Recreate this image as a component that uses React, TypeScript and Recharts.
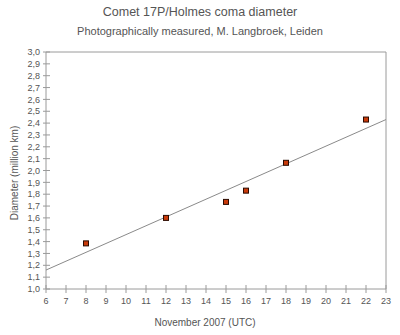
import { ComposedChart, Scatter, XAxis, YAxis, ReferenceLine } from 'recharts';

// November 2007 day, coma diameter (million km)
const days = [8, 12, 15, 16, 18, 22];
const diameters = [1.385, 1.6, 1.735, 1.83, 2.065, 2.43];

// linear fit drawn across the whole axis
const trendDays = [6, 23];
const trendValues = [1.16, 2.43];

const xTicks = [6, 7, 8, 9, 10, 11, 12, 13, 14, 15, 16, 17, 18, 19, 20, 21, 22, 23];
const yTicks = [
  1.0, 1.1, 1.2, 1.3, 1.4, 1.5, 1.6, 1.7, 1.8, 1.9, 2.0,
  2.1, 2.2, 2.3, 2.4, 2.5, 2.6, 2.7, 2.8, 2.9, 3.0,
];

const points = days.map((d, i) => ({ x: d, y: diameters[i] }));
const trend = trendDays.map((d, i) => ({ x: d, y: trendValues[i] }));

const AXIS = '#9a9a9a';
const TEXT = '#555';
const FONT = 'Arial, "Liberation Sans", sans-serif';

const fmt = (v: number) => v.toFixed(1).replace('.', ',');

const YTick = (props: any) => {
  const { x, y, payload } = props;
  return (
    <g>
      <line x1={x + 3} x2={x + 10} y1={y} y2={y} stroke={AXIS} />
      <text x={x} y={y} dy="0.35em" textAnchor="end" fontSize={9} fill={TEXT} fontFamily={FONT}>
        {fmt(payload.value)}
      </text>
    </g>
  );
};

const XTick = (props: any) => {
  const { x, y, payload } = props;
  return (
    <g>
      <line x1={x} x2={x} y1={y - 13} y2={y - 5} stroke={AXIS} />
      <text x={x} y={y} dy="0.71em" textAnchor="middle" fontSize={9} fill={TEXT} fontFamily={FONT}>
        {payload.value}
      </text>
    </g>
  );
};

const Marker = (props: any) => {
  const { cx, cy } = props;
  return (
    <rect x={cx - 2.5} y={cy - 2.5} width={5} height={5} fill="#c83a0a" stroke="#2a0a00" strokeWidth={1} />
  );
};

export default function App() {
  return (
    <div
      style={{
        position: 'absolute',
        left: 0,
        top: 0,
        width: 400,
        height: 335,
        background: '#fff',
        fontFamily: FONT,
        color: TEXT,
      }}
    >
      <div style={{ position: 'absolute', top: 5, width: 400, textAlign: 'center', fontSize: 12.5 }}>
        Comet 17P/Holmes coma diameter
      </div>
      <div style={{ position: 'absolute', top: 25, width: 400, textAlign: 'center', fontSize: 11 }}>
        Photographically measured, M. Langbroek, Leiden
      </div>
      <div
        style={{
          position: 'absolute',
          left: 14,
          top: 173,
          fontSize: 10,
          whiteSpace: 'nowrap',
          transform: 'translate(-50%, -50%) rotate(-90deg)',
        }}
      >
        Diameter (million km)
      </div>
      <div
        style={{
          position: 'absolute',
          left: 205,
          top: 322,
          fontSize: 10,
          whiteSpace: 'nowrap',
          transform: 'translate(-50%, -50%)',
        }}
      >
        November 2007 (UTC)
      </div>
      <div style={{ position: 'absolute', left: 0, top: 0 }}>
        <ComposedChart width={400} height={335} margin={{ top: 52, right: 14, bottom: 0, left: 0 }}>
          <XAxis
            type="number"
            dataKey="x"
            domain={[6, 23]}
            ticks={xTicks}
            interval={0}
            allowDataOverflow
            height={46}
            stroke={AXIS}
            tickLine={false}
            tickSize={0}
            tickMargin={9}
            tick={<XTick />}
          />
          <YAxis
            type="number"
            dataKey="y"
            domain={[1, 3]}
            ticks={yTicks}
            interval={0}
            allowDataOverflow
            width={46}
            stroke={AXIS}
            tickLine={false}
            tickSize={0}
            tickMargin={6}
            tick={<YTick />}
          />
          <ReferenceLine y={3} stroke={AXIS} />
          <ReferenceLine x={23} stroke={AXIS} />
          <Scatter
            data={trend}
            line={{ stroke: '#8a8a8a', strokeWidth: 1 }}
            shape={() => <g />}
            isAnimationActive={false}
          />
          <Scatter data={points} shape={<Marker />} isAnimationActive={false} />
        </ComposedChart>
      </div>
    </div>
  );
}
